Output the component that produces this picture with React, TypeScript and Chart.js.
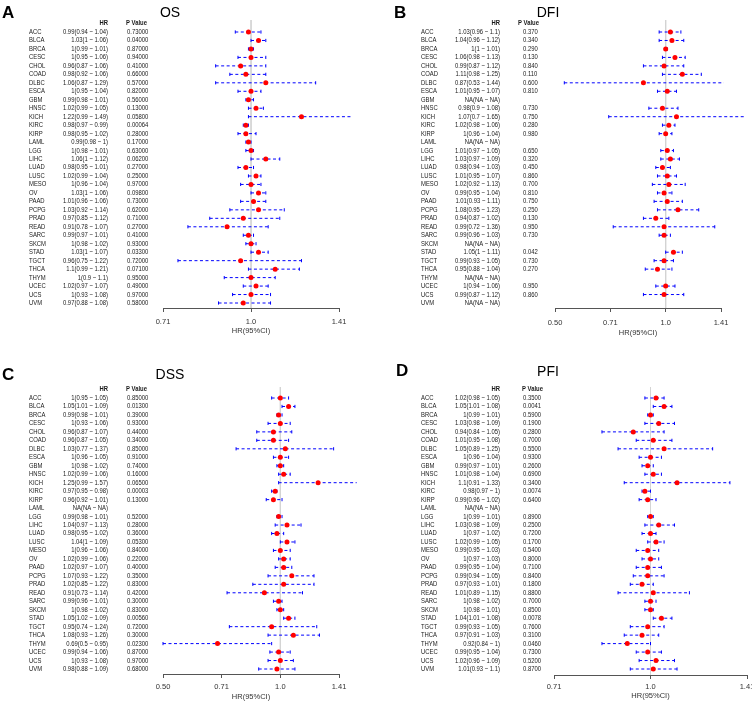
import React, { useEffect, useRef } from "react";
import { Chart, registerables } from "chart.js";
Chart.register(...registerables);

// ---------------- data ----------------
const cancers = ["ACC","BLCA","BRCA","CESC","CHOL","COAD","DLBC","ESCA","GBM","HNSC","KICH","KIRC","KIRP","LAML","LGG","LIHC","LUAD","LUSC","MESO","OV","PAAD","PCPG","PRAD","READ","SARC","SKCM","STAD","TGCT","THCA","THYM","UCEC","UCS","UVM"];

const osHR = [0.99,1.03,1,1,0.96,0.98,1.06,1,0.99,1.02,1.22,0.98,0.98,0.99,1,1.06,0.98,1.02,1,1.03,1.01,1.03,0.97,0.91,0.99,1,1.03,0.96,1.1,1,1.02,1,0.97];
const osLow = [0.94,1,0.99,0.95,0.87,0.92,0.87,0.95,0.98,0.99,0.99,0.97,0.95,0.98,0.98,1,0.95,0.99,0.96,1,0.96,0.92,0.85,0.78,0.97,0.98,1,0.75,0.99,0.9,0.97,0.93,0.88];
const osHigh = [1.04,1.06,1.01,1.06,1.06,1.06,1.29,1.04,1.01,1.05,1.49,0.99,1.02,1,1.01,1.12,1.01,1.04,1.04,1.06,1.06,1.14,1.12,1.07,1.01,1.02,1.07,1.22,1.21,1.1,1.07,1.08,1.08];
const osP = [0.73,0.04,0.87,0.94,0.41,0.66,0.57,0.82,0.56,0.13,0.058,0.00064,0.28,0.17,0.63,0.062,0.27,0.25,0.97,0.098,0.73,0.62,0.71,0.27,0.41,0.93,0.033,0.72,0.071,0.95,0.49,0.97,0.58];

const dfiHR = [1.03,1.04,1,1.06,0.99,1.11,0.87,1.01,null,0.98,1.07,1.02,1,null,1.01,1.03,0.98,1.01,1.02,0.99,1.01,1.08,0.94,0.99,0.99,null,1.05,0.99,0.95,null,1,0.99,null];
const dfiLow = [0.96,0.96,1,0.98,0.87,0.98,0.53,0.95,null,0.9,0.7,0.98,0.96,null,0.97,0.97,0.94,0.95,0.92,0.95,0.93,0.95,0.87,0.72,0.96,null,1,0.93,0.88,null,0.94,0.87,null];
const dfiHigh = [1.1,1.12,1.01,1.13,1.12,1.25,1.44,1.07,null,1.08,1.65,1.06,1.04,null,1.05,1.09,1.03,1.07,1.13,1.04,1.11,1.23,1.02,1.36,1.03,null,1.11,1.05,1.04,null,1.06,1.12,null];
const dfiP = [0.37,0.34,0.29,0.13,0.84,0.11,0.6,0.81,null,0.73,0.75,0.28,0.98,null,0.65,0.32,0.45,0.86,0.7,0.81,0.75,0.25,0.13,0.95,0.73,null,0.042,0.73,0.27,null,0.95,0.86,null];

const dssHR = [1,1.05,0.99,1,0.96,0.96,1.03,1,1,1.02,1.25,0.97,0.96,null,0.99,1.04,0.98,1.04,1,1.02,1.02,1.07,1.02,0.91,0.99,1,1.05,0.95,1.08,0.69,0.99,1,0.98];
const dssLow = [0.95,1.01,0.98,0.93,0.87,0.87,0.77,0.96,0.98,0.99,0.99,0.95,0.92,null,0.98,0.97,0.95,1,0.96,0.99,0.97,0.93,0.85,0.73,0.96,0.98,1.02,0.74,0.93,0.5,0.94,0.93,0.88];
const dssHigh = [1.05,1.09,1.01,1.06,1.07,1.05,1.37,1.05,1.02,1.06,1.57,0.98,1.01,null,1.01,1.13,1.02,1.09,1.06,1.06,1.07,1.22,1.22,1.14,1.01,1.02,1.09,1.24,1.26,0.95,1.06,1.08,1.09];
const dssP = [0.85,0.013,0.39,0.93,0.44,0.34,0.85,0.91,0.74,0.16,0.065,0.00003,0.13,null,0.52,0.28,0.36,0.053,0.84,0.22,0.4,0.35,0.83,0.42,0.3,0.83,0.0056,0.72,0.3,0.023,0.87,0.97,0.68];

const pfiHR = [1.02,1.05,1,1.03,0.94,1.01,1.05,1,0.99,1.01,1.1,0.98,0.99,null,1,1.03,1,1.02,0.99,1,0.99,0.99,0.97,1.01,1,1,1.04,0.99,0.97,0.92,0.99,1.02,1.01];
const pfiLow = [0.98,1.01,0.99,0.98,0.84,0.95,0.89,0.96,0.97,0.98,0.91,0.97,0.96,null,0.99,0.98,0.97,0.99,0.95,0.97,0.95,0.94,0.93,0.89,0.98,0.98,1.01,0.93,0.91,0.84,0.95,0.96,0.93];
const pfiHigh = [1.05,1.08,1.01,1.09,1.05,1.08,1.25,1.04,1.01,1.04,1.33,1,1.02,null,1.01,1.09,1.02,1.05,1.03,1.03,1.04,1.05,1.01,1.15,1.02,1.01,1.08,1.05,1.03,1,1.04,1.09,1.1];
const pfiP = [0.35,0.0041,0.59,0.19,0.28,0.7,0.55,0.93,0.26,0.69,0.34,0.0074,0.64,null,0.89,0.25,0.72,0.17,0.54,0.8,0.71,0.84,0.18,0.88,0.7,0.85,0.0078,0.76,0.31,0.046,0.73,0.52,0.87];

const ticks3 = [0.7071, 1, 1.4142];
const ticks3Labels = ["0.71", "1.0", "1.41"];
const ticks4 = [0.5, 0.7071, 1, 1.4142];
const ticks4Labels = ["0.50", "0.71", "1.0", "1.41"];

// ---------------- layout ----------------
const PW = 376;
const PH = 351;

type Cfg = {
  key: string; letter: string; title: string;
  hr: (number | null)[]; low: (number | null)[]; high: (number | null)[]; p: (number | null)[]; pDigits: number;
  xType: "logarithmic" | "linear"; xMin: number; xMax: number; tickVals: number[]; tickLabels: string[];
  left: number; top: number;
  letterX: number; letterY: number; titleX: number; titleY: number;
  nameX: number; hrX: number; pHeadX: number; pX: number; headY: number;
  rowTop: number; rowBot: number; refTop: number; axisY: number;
  plotL: number; plotR: number; tickPad: number; titlePadB: number;
};

const panels: Cfg[] = [
  { key: "A", letter: "A", title: "OS", hr: osHR, low: osLow, high: osHigh, p: osP, pDigits: 5,
    xType: "logarithmic", xMin: 0.7071, xMax: 1.4142, tickVals: ticks3, tickLabels: ticks3Labels,
    left: 0, top: 0, letterX: 2, letterY: 13, titleX: 170, titleY: 13,
    nameX: 29, hrX: 108, pHeadX: 126, pX: 127, headY: 23,
    rowTop: 32, rowBot: 303, refTop: 20, axisY: 308, plotL: 163, plotR: 339, tickPad: 5.8, titlePadB: 15.8 },
  { key: "B", letter: "B", title: "DFI", hr: dfiHR, low: dfiLow, high: dfiHigh, p: dfiP, pDigits: 3,
    xType: "logarithmic", xMin: 0.5, xMax: 1.4142, tickVals: ticks4, tickLabels: ticks4Labels,
    left: PW, top: 0, letterX: 18, letterY: 13, titleX: 172, titleY: 13,
    nameX: 45, hrX: 124, pHeadX: 142, pX: 147, headY: 23,
    rowTop: 32, rowBot: 303, refTop: 20, axisY: 308, plotL: 179, plotR: 345, tickPad: 6.8, titlePadB: 13.8 },
  { key: "C", letter: "C", title: "DSS", hr: dssHR, low: dssLow, high: dssHigh, p: dssP, pDigits: 5,
    xType: "logarithmic", xMin: 0.5, xMax: 1.4142, tickVals: ticks4, tickLabels: ticks4Labels,
    left: 0, top: PH, letterX: 2, letterY: 24, titleX: 170, titleY: 24,
    nameX: 29, hrX: 108, pHeadX: 126, pX: 127, headY: 38,
    rowTop: 47, rowBot: 318, refTop: 36, axisY: 323, plotL: 163, plotR: 339, tickPad: 4.8, titlePadB: 0.8 },
  { key: "D", letter: "D", title: "PFI", hr: pfiHR, low: pfiLow, high: pfiHigh, p: pfiP, pDigits: 4,
    xType: "logarithmic", xMin: 0.7071, xMax: 1.4142, tickVals: ticks3, tickLabels: ticks3Labels,
    left: PW, top: PH, letterX: 20, letterY: 20, titleX: 172, titleY: 21,
    nameX: 45, hrX: 124, pHeadX: 146, pX: 147, headY: 38,
    rowTop: 47, rowBot: 318, refTop: 36, axisY: 324, plotL: 178, plotR: 371, tickPad: 3.8, titlePadB: 1.8 },
];

function fontAvailable(name: string): boolean {
  const c = document.createElement("canvas").getContext("2d");
  if (!c) return false;
  const sample = "abcdefghijklmnopqrstuvwxyz0123456789ABC";
  c.font = "20px monospace";
  const a = c.measureText(sample).width;
  c.font = `20px "${name}", monospace`;
  const b = c.measureText(sample).width;
  return Math.abs(a - b) > 0.5;
}

function Panel({ cfg }: { cfg: Cfg }) {
  const ref = useRef<HTMLCanvasElement | null>(null);
  useEffect(() => {
    const canvas = ref.current;
    if (!canvas) return;
    const narrow = fontAvailable("Liberation Sans Narrow");
    const tFam = narrow ? '"Liberation Sans Narrow", "Liberation Sans", Arial, sans-serif' : '"Liberation Sans", Arial, sans-serif';
    const sx = narrow ? 1 : 0.82;
    const tSize = 7.2;
    const s = (cfg.rowBot - cfg.rowTop) / (cancers.length - 1);
    const yMin = -(cfg.rowTop - cfg.refTop) / s;
    const yMax = cancers.length - 1 + (cfg.axisY - cfg.rowBot) / s;

    const ciData: any[] = [];
    const ptData: any[] = [];
    cfg.hr.forEach((h, i) => {
      if (h == null) return;
      ciData.push({ x: cfg.low[i], y: i }, { x: cfg.high[i], y: i }, { x: cfg.high[i], y: null });
      ptData.push({ x: h, y: i });
    });
    const refData = [{ x: 1, y: yMin }, { x: 1, y: yMax }];

    const drawText = (ctx: CanvasRenderingContext2D, str: string, x: number, y: number, align: CanvasTextAlign, size: number, bold: boolean, fam: string, scaleX: number, color: string) => {
      ctx.save();
      ctx.font = `${bold ? "bold " : ""}${size}px ${fam}`;
      ctx.textAlign = align;
      ctx.textBaseline = "middle";
      ctx.fillStyle = color;
      ctx.translate(x, y);
      ctx.scale(scaleX, 1);
      ctx.fillText(str, 0, 0);
      ctx.restore();
    };

    const textPlugin = {
      id: "forestText",
      afterDraw(chart: any) {
        const ctx: CanvasRenderingContext2D = chart.ctx;
        const ys = chart.scales.y;
        const col = "#1a1a1a";
        drawText(ctx, cfg.letter, cfg.letterX, cfg.letterY, "left", 17, true, '"Liberation Sans", Arial, sans-serif', 1, "#000");
        drawText(ctx, cfg.title, cfg.titleX, cfg.titleY, "center", 14, false, '"Liberation Sans", Arial, sans-serif', 1, "#000");
        drawText(ctx, "HR", cfg.hrX, cfg.headY, "right", tSize, true, tFam, sx, col);
        drawText(ctx, "P Value", cfg.pHeadX, cfg.headY, "left", tSize, true, tFam, sx, col);
        cancers.forEach((name, i) => {
          const y = ys.getPixelForValue(i);
          drawText(ctx, name, cfg.nameX, y, "left", tSize, false, tFam, sx, col);
          const h = cfg.hr[i];
          const hrStr = h == null ? "NA(NA ~ NA)" : `${h}(${cfg.low[i]} ~ ${cfg.high[i]})`;
          drawText(ctx, hrStr, cfg.hrX, y, "right", tSize, false, tFam, sx, col);
          const pv = cfg.p[i];
          if (pv != null) drawText(ctx, pv.toFixed(cfg.pDigits), cfg.pX, y, "left", tSize, false, tFam, sx, col);
        });
      },
    };

    const chart = new Chart(canvas, {
      type: "scatter",
      data: {
        datasets: [
          { type: "scatter", data: ptData, pointRadius: 2.5, pointHoverRadius: 2.5, pointStyle: "circle",
            pointBackgroundColor: "#ff0000", pointBorderWidth: 0, order: 0, clip: false } as any,
          { type: "line", data: ciData, borderColor: "#0000ff", borderWidth: 1, borderDash: [3, 2.5],
            pointStyle: "line", pointRotation: 90, pointRadius: 1.6, pointHoverRadius: 1.6,
            pointBorderColor: "#0000ff", pointBorderWidth: 1, spanGaps: false, fill: false, tension: 0, order: 1, clip: false } as any,
          { type: "line", data: refData, borderColor: "#d4d4d4", borderWidth: 1, pointRadius: 0, order: 2, clip: false } as any,
        ],
      },
      options: {
        responsive: false,
        animation: false,
        events: [],
        layout: { padding: { left: cfg.plotL, right: PW - cfg.plotR, top: cfg.refTop, bottom: 0 } },
        plugins: { legend: { display: false }, tooltip: { enabled: false }, title: { display: false } },
        scales: {
          x: {
            type: cfg.xType, min: cfg.xMin, max: cfg.xMax, position: "bottom",
            afterBuildTicks: (sc: any) => { sc.ticks = cfg.tickVals.map((v) => ({ value: v })); },
            afterFit: (sc: any) => { sc.height = PH - cfg.axisY; sc.paddingLeft = 0; sc.paddingRight = 0; },
            ticks: { autoSkip: false, maxRotation: 0, minRotation: 0, padding: cfg.tickPad, color: "#333",
              font: { family: tFam, size: 7.5 }, callback: (_v: any, i: number) => cfg.tickLabels[i] },
            grid: { display: true, drawOnChartArea: false, drawTicks: true, tickLength: 4, color: "#555", lineWidth: 1 },
            border: { display: true, color: "#555", width: 1 },
            title: { display: true, text: "HR(95%CI)", color: "#333", font: { family: tFam, size: 7.5 }, padding: { top: 0, bottom: cfg.titlePadB } },
          } as any,
          y: { type: "linear", reverse: true, min: yMin, max: yMax, display: false },
        },
      },
      plugins: [textPlugin],
    });
    return () => chart.destroy();
  }, [cfg]);
  return (
    <div style={{ position: "absolute", left: cfg.left, top: cfg.top, width: PW, height: PH }}>
      <canvas ref={ref} width={PW} height={PH} style={{ width: PW, height: PH, display: "block" }} />
    </div>
  );
}

export default function App() {
  return (
    <div style={{ position: "absolute", left: 0, top: 0, width: 752, height: 702, background: "#fff", overflow: "hidden" }}>
      {panels.map((p) => <Panel key={p.key} cfg={p} />)}
    </div>
  );
}
